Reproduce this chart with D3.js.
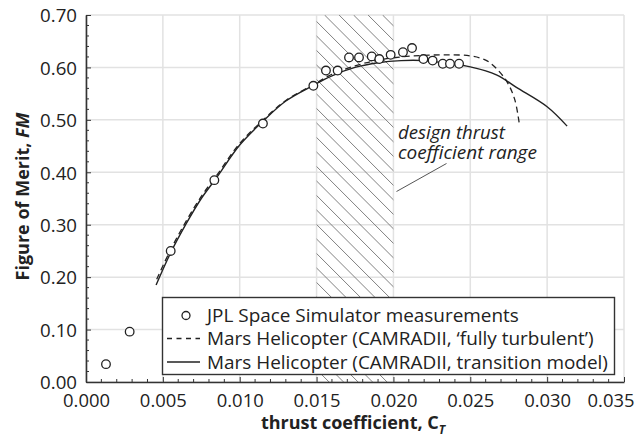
<!DOCTYPE html>
<html>
<head>
<meta charset="utf-8">
<script src="https://cdn.jsdelivr.net/npm/d3@7"></script>
<style>
  html, body { margin: 0; padding: 0; background: #fff; }
  svg { display: block; }
  text { font-family: "Open Sans", "Noto Sans", sans-serif; fill: #222; }
</style>
</head>
<body>
<svg id="chart" width="639" height="438"></svg>
<script>
// ---------------- data ----------------
const xTickValues = [0, 0.005, 0.010, 0.015, 0.020, 0.025, 0.030, 0.035];
const xTickLabels = ["0.000", "0.005", "0.010", "0.015", "0.020", "0.025", "0.030", "0.035"];
const yTickValues = [0, 0.1, 0.2, 0.3, 0.4, 0.5, 0.6, 0.7];
const yTickLabels = ["0.00", "0.10", "0.20", "0.30", "0.40", "0.50", "0.60", "0.70"];

// JPL Space Simulator measurements
const measCT = [0.0013, 0.00284, 0.00551, 0.00835, 0.01151, 0.01479, 0.01561, 0.01637, 0.01711,
                0.01776, 0.01859, 0.01908, 0.01982, 0.02062, 0.02121, 0.02195, 0.02255, 0.02321,
                0.02368, 0.02427];
const measFM = [0.034, 0.096, 0.250, 0.385, 0.493, 0.565, 0.594, 0.594, 0.619,
                0.619, 0.621, 0.616, 0.624, 0.629, 0.637, 0.616, 0.613, 0.607,
                0.607, 0.607];

// Mars Helicopter (CAMRADII, 'fully turbulent') - dashed
const turbCT = [0.0046, 0.0055, 0.0065, 0.0075, 0.0085, 0.0100, 0.0115, 0.0130, 0.0148, 0.0160,
                0.0175, 0.0190, 0.0205, 0.0220, 0.0235, 0.0250, 0.0260, 0.0267, 0.0274, 0.0279, 0.0282];
const turbFM = [0.196, 0.252, 0.306, 0.354, 0.394, 0.455, 0.499, 0.537, 0.567, 0.587,
                0.603, 0.614, 0.620, 0.623, 0.624, 0.622, 0.614, 0.598, 0.572, 0.538, 0.490];

// Mars Helicopter (CAMRADII, transition model) - solid
const transCT = [0.00456, 0.0055, 0.0065, 0.0075, 0.0085, 0.0100, 0.0115, 0.0130, 0.0148, 0.0160,
                 0.0175, 0.0190, 0.0205, 0.0220, 0.0235, 0.0250, 0.0267, 0.0280, 0.0300, 0.0313];
const transFM = [0.185, 0.246, 0.301, 0.350, 0.390, 0.452, 0.497, 0.536, 0.566, 0.584,
                 0.600, 0.609, 0.613, 0.613, 0.608, 0.601, 0.586, 0.562, 0.525, 0.488];

const designRange = [0.015, 0.020];
const legendLabels = ["JPL Space Simulator measurements",
                      "Mars Helicopter (CAMRADII, \u2018fully turbulent\u2019)",
                      "Mars Helicopter (CAMRADII, transition model)"];
const annotationLines = ["design thrust", "coefficient range"];

// ---------------- layout ----------------
const W = 639, H = 438;
const m = { left: 86, right: 15, top: 15, bottom: 56 };
const svg = d3.select("#chart");
const x = d3.scaleLinear().domain([0, 0.035]).range([m.left, W - m.right]);
const y = d3.scaleLinear().domain([0, 0.7]).range([H - m.bottom, m.top]);
const ink = "#222";

function fit(sel, w) {
  const node = sel.node();
  const fs = parseFloat(sel.style("font-size"));
  const len = node.getComputedTextLength();
  if (len > 0) sel.style("font-size", (fs * w / len).toFixed(2) + "px");
  return sel.style("font-size");
}

// grid
const grid = svg.append("g");
grid.selectAll("line.gx").data(xTickValues).join("line")
  .attr("x1", d => x(d)).attr("x2", d => x(d))
  .attr("y1", y(0)).attr("y2", y(0.7))
  .attr("stroke", "#e2e2e2").attr("stroke-width", 1.5);
grid.selectAll("line.gy").data(yTickValues).join("line")
  .attr("x1", x(0)).attr("x2", x(0.035))
  .attr("y1", d => y(d)).attr("y2", d => y(d))
  .attr("stroke", "#e2e2e2").attr("stroke-width", 1.5);

// hatched design range
const hx0 = x(designRange[0]), hx1 = x(designRange[1]);
svg.append("clipPath").attr("id", "hclip").append("rect")
  .attr("x", hx0).attr("y", y(0.7)).attr("width", hx1 - hx0).attr("height", y(0) - y(0.7));
const hatch = svg.append("g").attr("clip-path", "url(#hclip)");
const hH = y(0) - y(0.7);
const hatchStarts = d3.range(hx0 - hH - 2, hx1 + 14, 14.5);
hatch.selectAll("line").data(hatchStarts).join("line")
  .attr("x1", d => d).attr("y1", y(0.7))
  .attr("x2", d => d + hH).attr("y2", y(0.7) + hH)
  .attr("stroke", "#808080").attr("stroke-width", 1);

// axes
const xAxis = svg.append("g").attr("transform", `translate(0,${y(0)})`)
  .call(d3.axisBottom(x).tickValues(xTickValues).tickFormat((d, i) => xTickLabels[i])
        .tickSizeInner(-5).tickSizeOuter(0).tickPadding(11));
const yAxis = svg.append("g").attr("transform", `translate(${x(0)},0)`)
  .call(d3.axisLeft(y).tickValues(yTickValues).tickFormat((d, i) => yTickLabels[i])
        .tickSizeInner(-5).tickSizeOuter(0).tickPadding(9));
[xAxis, yAxis].forEach(a => {
  a.attr("font-family", null).attr("font-size", null);
  a.select(".domain").attr("stroke", "#333").attr("stroke-width", 1.6);
  a.selectAll(".tick line").attr("stroke", "#333").attr("stroke-width", 1);
  a.selectAll(".tick text").style("font-size", "18px").attr("fill", "#2a2a2a");
});
yAxis.selectAll(".tick text").attr("dy", "0.36em");
xAxis.selectAll(".tick text").attr("dy", "0.76em");
// size tick labels to the reference widths
const yfs = fit(yAxis.selectAll(".tick text").filter((d, i) => i === 7), 37);
yAxis.selectAll(".tick text").style("font-size", yfs);
const xfs = fit(xAxis.selectAll(".tick text").filter((d, i) => i === 0), 47);
xAxis.selectAll(".tick text").style("font-size", xfs);
// last x label nudged inward so it stays on the canvas
xAxis.selectAll(".tick text").filter((d, i) => i === xTickValues.length - 1)
  .attr("text-anchor", "end").attr("x", 10);

// minor ticks
const xMinor = d3.range(0, 0.0351, 0.001).filter(v => Math.abs(v / 0.005 - Math.round(v / 0.005)) > 1e-6);
const yMinor = d3.range(0, 0.701, 0.02).filter(v => Math.abs(v / 0.1 - Math.round(v / 0.1)) > 1e-6);
svg.append("g").selectAll("line").data(xMinor).join("line")
  .attr("x1", d => x(d)).attr("x2", d => x(d)).attr("y1", y(0)).attr("y2", y(0) - 3)
  .attr("stroke", "#333").attr("stroke-width", 1);
svg.append("g").selectAll("line").data(yMinor).join("line")
  .attr("x1", x(0)).attr("x2", x(0) + 3).attr("y1", d => y(d)).attr("y2", d => y(d))
  .attr("stroke", "#333").attr("stroke-width", 1);

// curves
const line = d3.line().x(d => x(d[0])).y(d => y(d[1])).curve(d3.curveCatmullRom.alpha(0.5));
svg.append("path").datum(d3.zip(turbCT, turbFM)).attr("d", line)
  .attr("fill", "none").attr("stroke", ink).attr("stroke-width", 1.3)
  .attr("stroke-dasharray", "6,4");
svg.append("path").datum(d3.zip(transCT, transFM)).attr("d", line)
  .attr("fill", "none").attr("stroke", ink).attr("stroke-width", 1.4);

// measurements
svg.append("g").selectAll("circle").data(d3.zip(measCT, measFM)).join("circle")
  .attr("cx", d => x(d[0])).attr("cy", d => y(d[1])).attr("r", 4.3)
  .attr("fill", "#fff").attr("stroke", ink).attr("stroke-width", 1.3);

// annotation
const ann = svg.append("g");
const annY = [139, 159];
const annW = [107, 139];
annotationLines.forEach((t, i) => {
  const tx = ann.append("text").attr("x", 398).attr("y", annY[i])
    .style("font-style", "italic").style("font-size", "16px").text(t);
  fit(tx, annW[i]);
});
ann.append("line").attr("x1", 446.5).attr("y1", 163.5).attr("x2", 396.5).attr("y2", 191.5)
  .attr("stroke", "#555").attr("stroke-width", 1);

// legend
const lg = svg.append("g");
lg.append("rect").attr("x", 162.5).attr("y", 297.5).attr("width", 452).attr("height", 77)
  .attr("fill", "#fff").attr("stroke", "#333").attr("stroke-width", 1.4);
const rowY = [315.5, 338.5, 362];
lg.append("circle").attr("cx", 186).attr("cy", rowY[0]).attr("r", 4)
  .attr("fill", "#fff").attr("stroke", ink).attr("stroke-width", 1.3);
lg.append("line").attr("x1", 167).attr("x2", 200).attr("y1", rowY[1]).attr("y2", rowY[1])
  .attr("stroke", ink).attr("stroke-width", 1.3).attr("stroke-dasharray", "5,4.5");
lg.append("line").attr("x1", 167).attr("x2", 200).attr("y1", rowY[2]).attr("y2", rowY[2])
  .attr("stroke", ink).attr("stroke-width", 1.4);
const lt = legendLabels.map((t, i) => lg.append("text").attr("x", 207).attr("y", rowY[i])
  .attr("dy", "0.35em").style("font-size", "17px").text(t));
const lfs = fit(lt[2], 401);
lt.forEach(s => s.style("font-size", lfs));

// x title
const xt = svg.append("text").attr("x", x(0.0175) - 2).attr("y", 429)
  .attr("text-anchor", "middle").style("font-size", "18px").style("font-weight", "bold");
xt.append("tspan").text("thrust coefficient, C");
xt.append("tspan").attr("dy", 5).style("font-size", "12px").style("font-style", "italic").text("T");

// y title
const yt = svg.append("text").attr("transform", `translate(29,${(y(0) + y(0.7)) / 2 - 2}) rotate(-90)`)
  .attr("text-anchor", "middle").style("font-size", "18px").style("font-weight", "bold");
yt.append("tspan").text("Figure of Merit, ");
yt.append("tspan").style("font-style", "italic").text("FM");
</script>
</body>
</html>
